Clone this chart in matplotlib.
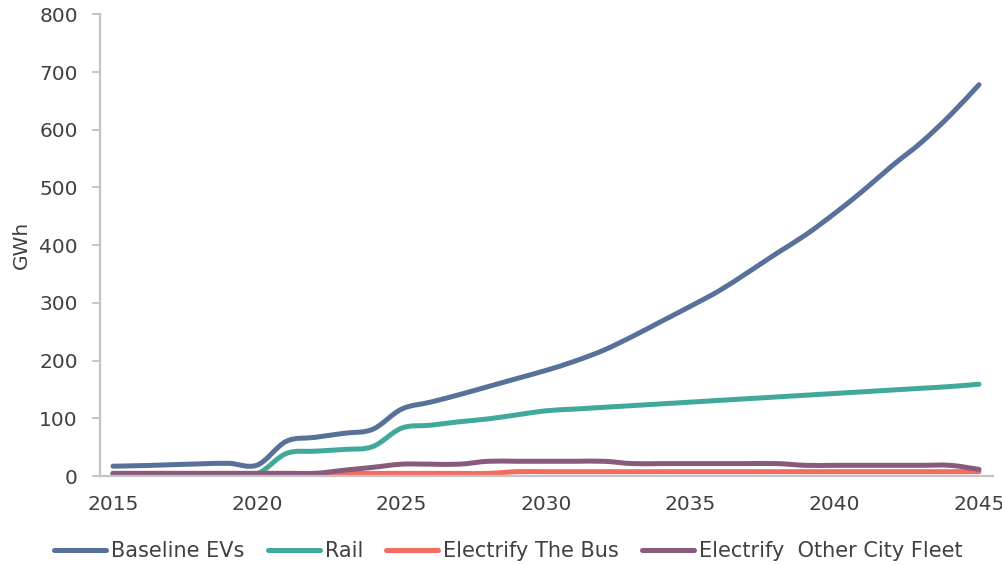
import matplotlib
matplotlib.use("Agg")
import matplotlib.pyplot as plt
from matplotlib.path import Path
from matplotlib.patches import PathPatch
from matplotlib.lines import Line2D
import numpy as np

years = list(range(2015, 2046))

baseline_evs = [17, 18, 19.5, 21, 22, 19, 60, 67, 74, 81, 116, 128, 141, 155, 169,
                183, 199, 218, 242, 268, 294, 321, 353, 386, 418, 455, 495, 538,
                578, 625, 678]
rail = [4, 4, 4, 4, 4, 4, 39, 43, 46, 51, 83, 88, 94, 99, 106,
        113, 116, 119, 122, 125, 128, 131, 134, 137, 140, 143, 146, 149,
        152, 155, 159]
electrify_bus = [4.5, 4.5, 4.5, 4.5, 4.5, 4.5, 4.5, 4.5, 4.5, 4.5, 4.5, 4.5, 4.5, 4.5, 7.5,
                 7.5, 7.5, 7.5, 7.5, 7.5, 7.5, 7.5, 7.5, 7.5, 7.5, 7.5, 7.5, 7.5,
                 7.5, 7.5, 7.5]
other_fleet = [4.5, 4.5, 4.5, 4.5, 4.5, 4.5, 4.5, 4.5, 10, 15, 20.5, 20.5, 20.5, 25.5, 25.5,
               25.5, 25.5, 25.5, 21.5, 21.5, 21.5, 21.5, 21.5, 21.5, 18.5, 18.5, 18.5, 18.5,
               18.5, 18.5, 11.5]

labels = ["Baseline EVs", "Rail", "Electrify The Bus", "Electrify  Other City Fleet"]
colors = ["#58719a", "#41a99a", "#f36c5f", "#885a7c"]
series = [baseline_evs, rail, electrify_bus, other_fleet]

text_col = "#404040"
grid_col = "#c4c4c4"


def smooth_path(x, y):
    # excel style smoothed line: cubic bezier segments (catmull-rom tangents)
    x = np.asarray(x, float)
    y = np.asarray(y, float)
    n = len(x)
    verts = [(x[0], y[0])]
    codes = [Path.MOVETO]
    for i in range(n - 1):
        i0 = max(i - 1, 0)
        i3 = min(i + 2, n - 1)
        c1 = (x[i] + (x[i + 1] - x[i0]) / 6, y[i] + (y[i + 1] - y[i0]) / 6)
        c2 = (x[i + 1] - (x[i3] - x[i]) / 6, y[i + 1] - (y[i3] - y[i]) / 6)
        verts += [c1, c2, (x[i + 1], y[i + 1])]
        codes += [Path.CURVE4] * 3
    return Path(verts, codes)


fig = plt.figure(figsize=(10.03, 5.65), dpi=100)
ax = fig.add_axes([100 / 1003, 1 - 476 / 565, 893 / 1003, 461.7 / 565])

lw = 3.6
for vals, col in zip(series, colors):
    patch = PathPatch(smooth_path(years, vals), facecolor="none", edgecolor=col,
                      lw=lw, capstyle="round", joinstyle="round")
    ax.add_patch(patch)

ax.set_xlim(2014.55, 2045.485)
ax.set_ylim(0, 800)
ax.set_xticks(range(2015, 2046, 5))
ax.set_yticks(range(0, 801, 100))

for s in ["top", "right"]:
    ax.spines[s].set_visible(False)
for s in ["left", "bottom"]:
    ax.spines[s].set_color(grid_col)
    ax.spines[s].set_linewidth(1.6)

ax.tick_params(axis="y", length=6, width=1.4, color=grid_col, pad=10,
               labelsize=14.5, labelcolor=text_col)
ax.tick_params(axis="x", length=0, pad=14, labelsize=14.5, labelcolor=text_col)

ax.set_ylabel("GWh", fontsize=14.5, color=text_col, labelpad=6)

handles = [Line2D([], [], color=c, lw=lw, solid_capstyle="round") for c in colors]
fig.legend(handles, labels, loc="center", bbox_to_anchor=(0.507, 0.024),
           ncol=4, frameon=False, fontsize=15, labelcolor=text_col,
           handlelength=2.5, handletextpad=0.25, columnspacing=1.1,
           borderaxespad=0, borderpad=0)

fig.savefig("out.png", dpi=100)
